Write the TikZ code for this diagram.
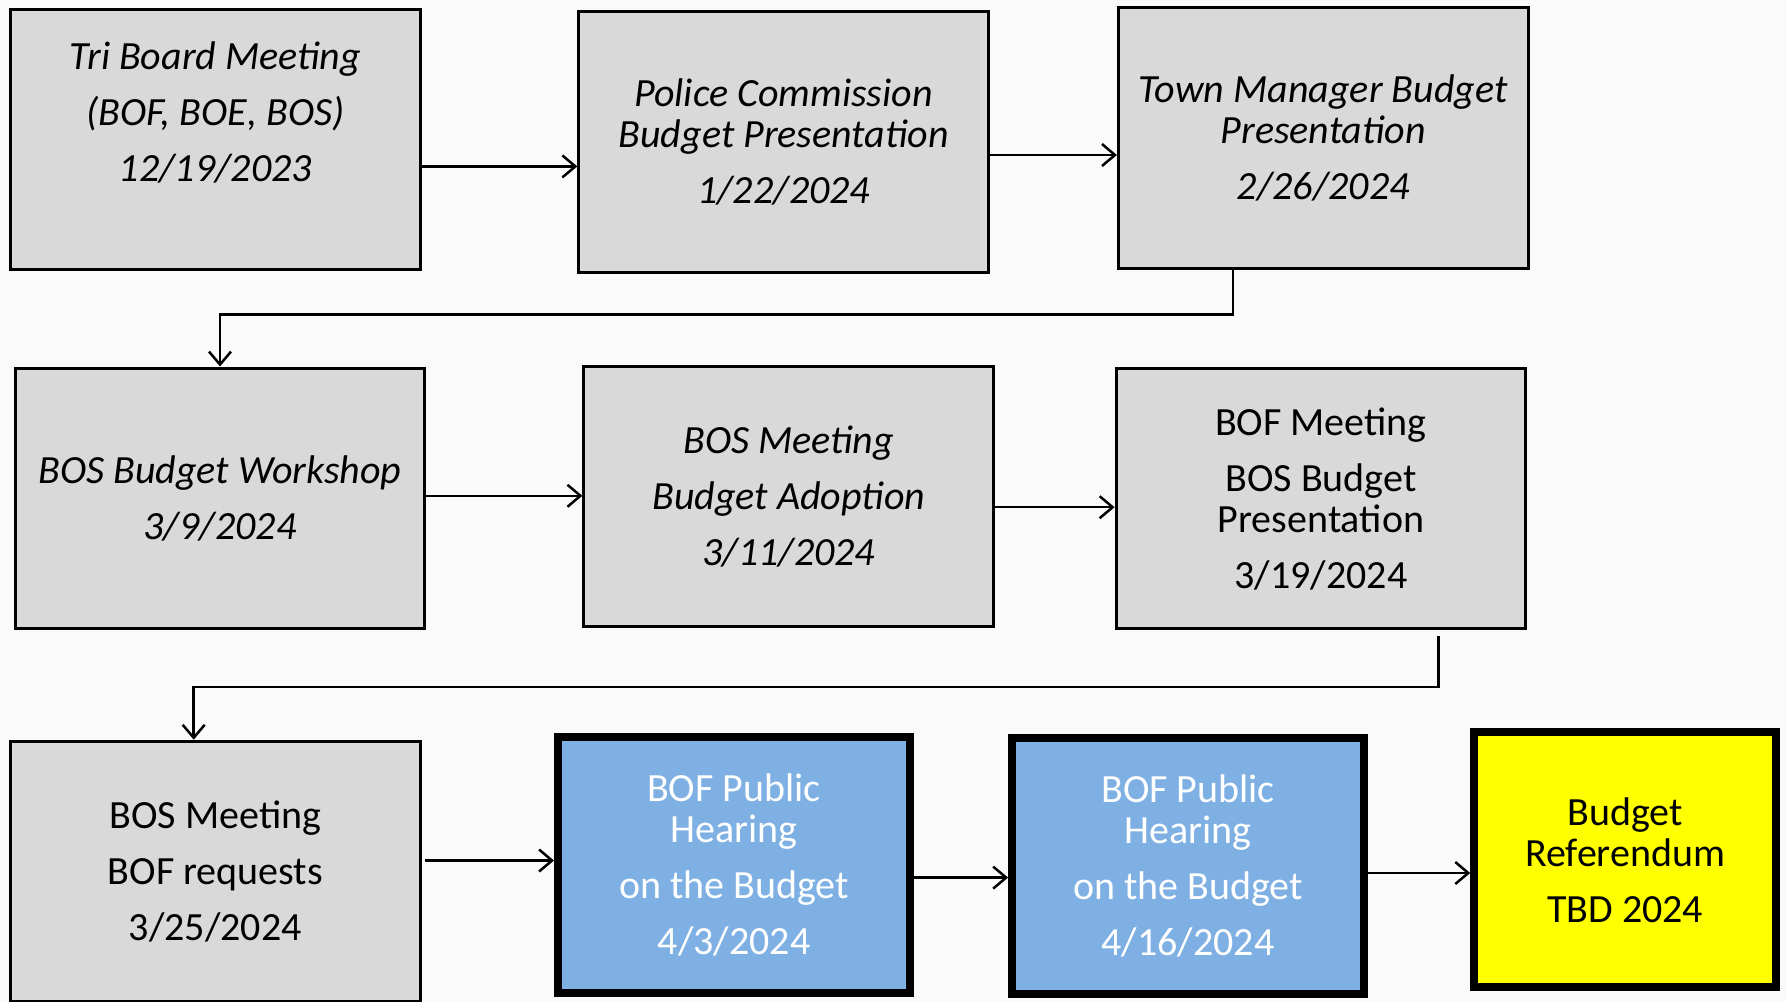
\documentclass[tikz,border=0pt]{standalone}
\usepackage{fontspec}
\setmainfont{Carlito}
\usetikzlibrary{arrows.meta}
\definecolor{bg}{HTML}{FAFAFA}
\definecolor{boxgray}{HTML}{D9D9D9}
\definecolor{boxblue}{HTML}{7EB0E4}
\definecolor{boxyellow}{HTML}{FFFF00}
\begin{document}
\begin{tikzpicture}[x=1pt,y=-1pt,
  basebox/.style={draw=black, align=center, inner sep=0pt, font=\fontsize{40}{41}\selectfont},
  graybox/.style={basebox, line width=3pt, fill=boxgray, minimum width=409.6pt, minimum height=260.2pt},
  itbox/.style={graybox, font=\fontsize{40}{41}\selectfont\itshape},
  bluebox/.style={basebox, line width=8pt, fill=boxblue, text=white, minimum width=352pt, minimum height=256pt},
  yellowbox/.style={basebox, line width=8pt, fill=boxyellow, minimum width=302pt, minimum height=255pt},
  arr/.style={line width=2.5pt, -{Straight Barb[length=13pt,width=22pt]}}]
\fill[bg] (0,0) rectangle (1787,1001);
\useasboundingbox (0,0) rectangle (1787,1001);
\clip (0,0) rectangle (1787,1001);

\node[itbox] (b1) at (215.4,139.6) {Tri Board Meeting\\[15pt](BOF, BOE, BOS)\\[15pt]12/19/2023\\[15pt]\phantom{1}};
\node[itbox] (b2) at (783.6,141.9) {Police Commission\\Budget Presentation\\[15pt]1/22/2024};
\node[itbox] (b3) at (1323.2,137.9) {Town Manager Budget\\Presentation\\[15pt]2/26/2024};

\node[itbox] (b4) at (220.0,498.1) {BOS Budget Workshop\\[15pt]3/9/2024};
\node[itbox] (b5) at (788.7,496.4) {BOS Meeting\\[15pt]Budget Adoption\\[15pt]3/11/2024};
\node[graybox] (b6) at (1320.9,498.7) {BOF Meeting\\[15pt]BOS Budget\\Presentation\\[15pt]3/19/2024};

\node[graybox] (b7) at (215.4,871.3) {BOS Meeting\\[15pt]BOF requests\\[15pt]3/25/2024};
\node[bluebox] (b8) at (734.0,865.0) {BOF Public\\Hearing\\[15pt]on the Budget\\[15pt]4/3/2024};
\node[bluebox] (b9) at (1188.1,865.6) {BOF Public\\Hearing\\[15pt]on the Budget\\[15pt]4/16/2024};
\node[yellowbox] (b10) at (1625.2,859.9) {Budget\\Referendum\\[15pt]TBD 2024};

\coordinate (s67) at (1438.3,636);
\coordinate (s78) at (425,860.5);

\draw[arr] (b1.east |- 0,166.4) -- (b2.west |- 0,166.4);
\draw[arr] (b2.east |- 0,155) -- (b3.west |- 0,155);
\draw[arr] (b3.south -| 1233.2,0) -- (1233.2,314.6) -| (b4.north);
\draw[arr] (b4.east |- 0,495.8) -- (b5.west |- 0,495.8);
\draw[arr] (b5.east |- 0,507.2) -- (b6.west |- 0,507.2);
\draw[arr] (s67) -- (1438.3,687.2) -| (b7.north -| 193.7,0);
\draw[arr] (s78) -- (b8.west |- s78);
\draw[arr] (b8.east |- 0,877.6) -- (b9.west |- 0,877.6);
\draw[arr] (b9.east |- 0,873) -- (b10.west |- 0,873);
\end{tikzpicture}
\end{document}
